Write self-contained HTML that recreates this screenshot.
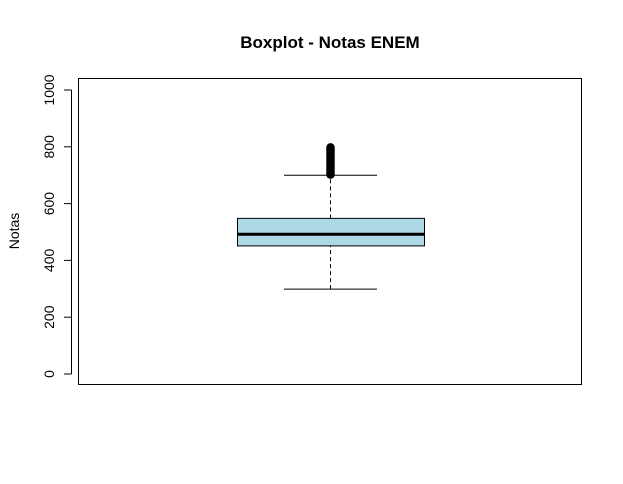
<!DOCTYPE html>
<html><head><meta charset="utf-8"><style>
html,body{margin:0;padding:0;background:#fff;}
svg{display:block;font-family:"Liberation Sans",Arial,sans-serif;}
</style></head><body>
<svg id="chart" width="623" height="484" viewBox="0 0 623 484">
<text x="330" y="48" text-anchor="middle" font-size="17" font-weight="bold">Boxplot - Notas ENEM</text>
<rect x="78.5" y="78.5" width="503" height="306" fill="none" stroke="#000" stroke-width="1"/>
<text transform="translate(19,231) rotate(-90)" text-anchor="middle" font-size="14">Notas</text>
<g id="yaxis"></g>
<g id="box"></g>
</svg>
<script>
const yTicks = [0, 200, 400, 600, 800, 1000];
const yTickLabels = ["0", "200", "400", "600", "800", "1000"];
const stats = [299, 451, 492, 548, 700]; // lower whisker, q1, median, q3, upper whisker
const outliers = [702, 706, 710, 715, 720, 725, 730, 735, 740, 745, 750, 755, 760, 765, 770, 775, 780, 785, 790, 795, 798];

const NS = "http://www.w3.org/2000/svg";
function y(v){ return 374 - 0.284 * v; }
function mk(tag, attrs, parent){
  const e = document.createElementNS(NS, tag);
  for (const k in attrs) e.setAttribute(k, attrs[k]);
  parent.appendChild(e); return e;
}
const ya = document.getElementById('yaxis');
const yl = mk('line', {x1: 71.5, x2: 71.5, y1: y(yTicks[0]), y2: y(yTicks[yTicks.length-1]), stroke: '#000'}, ya);


yTicks.forEach((t, i) => {
  const tk = mk('line', {x1: 64, x2: 71.5, y1: y(t), y2: y(t), stroke: '#000'}, ya);
  
  
  const tx = mk('text', {transform: `translate(54,${y(t)}) rotate(-90)`, 'text-anchor': 'middle', 'font-size': 14}, ya);
  tx.textContent = yTickLabels[i];
  
  
});

const g = document.getElementById('box');
const cx = 330.5, bl = 237.5, br = 424.5, cl = 284, cr = 377;
const w1 = mk('line', {x1: cx, x2: cx, y1: y(stats[0]), y2: y(stats[1]), stroke: '#000', 'stroke-dasharray': '4,3'}, g);


const w2 = mk('line', {x1: cx, x2: cx, y1: y(stats[3]), y2: y(stats[4]), stroke: '#000', 'stroke-dasharray': '4,3'}, g);


const c1 = mk('line', {x1: cl, x2: cr, y1: y(stats[0]), y2: y(stats[0]), stroke: '#000'}, g);


const c2 = mk('line', {x1: cl, x2: cr, y1: y(stats[4]), y2: y(stats[4]), stroke: '#000'}, g);


const bx = mk('rect', {x: bl, y: y(stats[3]), width: br - bl, height: y(stats[1]) - y(stats[3]), fill: '#add8e6', stroke: '#000', 'stroke-width': 1}, g);


const md = mk('line', {x1: bl, x2: br, y1: y(stats[2]), y2: y(stats[2]), stroke: '#000', 'stroke-width': 3}, g);


outliers.forEach(v => {
  const p = mk('circle', {cx: cx, cy: y(v), r: 3, fill: 'none', stroke: '#000', 'stroke-width': 2.5}, g);
  
  
});
</script>
</body></html>
